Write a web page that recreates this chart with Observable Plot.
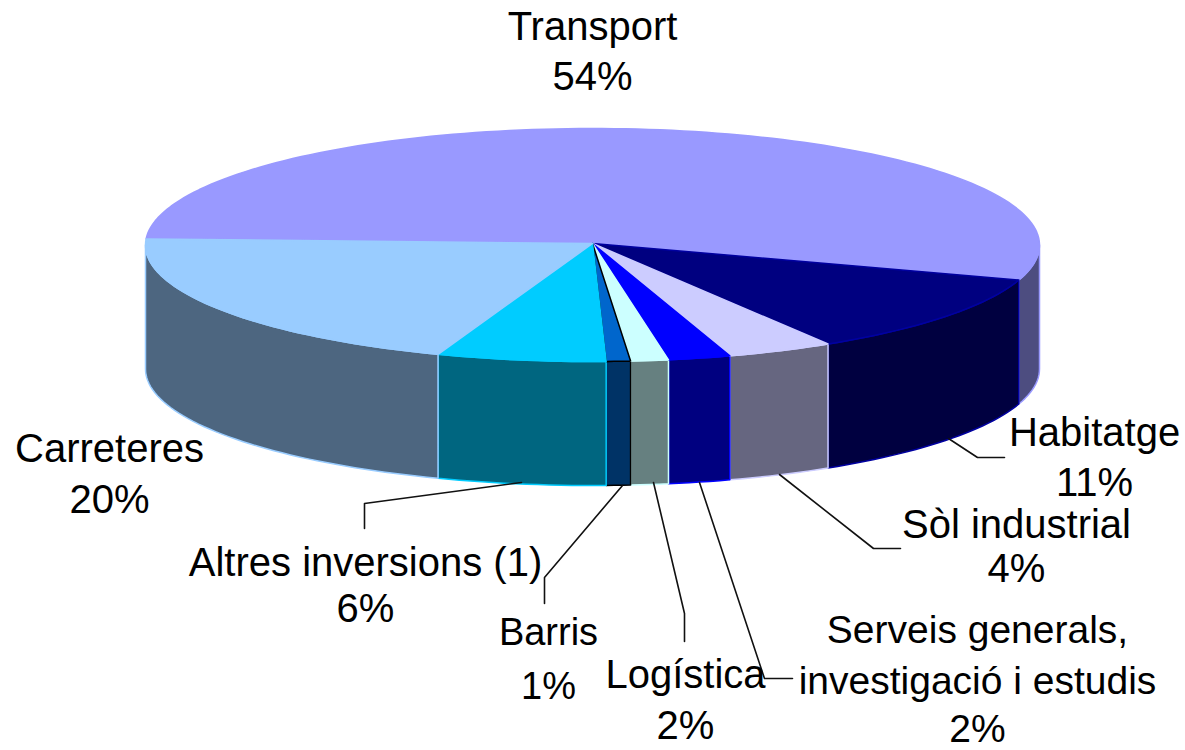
<!DOCTYPE html>
<html>
<head>
<meta charset="utf-8">
<script src="https://cdn.jsdelivr.net/npm/d3@7"></script>
<script src="https://cdn.jsdelivr.net/npm/@observablehq/plot@0.6"></script>
<style>html,body{margin:0;padding:0;background:#fff}svg{display:block}</style>
</head>
<body>
<div id="chart"></div>
<script>
// Data: slices in drawing order round the pie (counter-clockwise from Transport)
const names = ["Transport", "Carreteres", "Altres inversions (1)", "Barris", "Logística",
  "Serveis generals,\ninvestigació i estudis", "Sòl industrial", "Habitatge"];
const shownPercent = [54, 20, 6, 1, 2, 2, 4, 11];
const shares = [54.0, 20.2, 6.1, 0.87, 1.36, 2.25, 3.86, 11.3]; // estimated from the drawn angles

// Styles
const topColors  = ["#9999FF", "#99CCFF", "#00CCFF", "#0066CC", "#CCFFFF", "#0000FF", "#CCCCFF", "#000080"];
const wallColors = ["#4D4D80", "#4D6680", "#006680", "#003366", "#668080", "#000080", "#666680", "#000040"];
const edgeColors = ["#9999FF", "#99CCFF", "#00CCFF", "#000000", "#CCFFFF", "#0000FF", "#CCCCFF", "#0000A0"];

// Layout of the pseudo-3D pie
const pie = {cx: 592, cy: 244.5, rx: 447, ry: 116.5, depth: 124, startDeg: -17.5};
const labelX = [592, 109, 365, 548, 685, 977, 1016, 1094];
const labelY = [[27, 77], [449, 500], [563, 609], [632, 686], [675, 726], [630, 681, 729], [525, 569], [433, 483]];
const labelSize = [40, 40, 40, 38, 40, 39, 40, 40];
const leaders = [
  null, null,
  [[521, 482], [364, 503], [364, 528]],
  [[622, 485], [544, 577], [544, 603]],
  [[653, 482], [684, 613], [684, 641]],
  [[699, 482], [764, 678], [792, 678]],
  [[779, 474], [873, 548], [900, 548]],
  [[948, 438], [977, 457], [1004, 457]]
];

const total = d3.sum(shares);
let start = pie.startDeg;
const slices = names.map((name, i) => {
  const a0 = start, a1 = start + shares[i] / total * 360;
  start = a1;
  return {i, a0, a1};
});
const px = deg => pie.cx + pie.rx * Math.cos(deg * Math.PI / 180);
const py = deg => pie.cy - pie.ry * Math.sin(deg * Math.PI / 180);
const arc = (a0, a1) => {
  const n = Math.max(2, Math.ceil(Math.abs(a1 - a0) / 1.5));
  return d3.range(n + 1).map(k => a0 + (a1 - a0) * k / n);
};

// Transport first, then the rest from Habitatge back to Carreteres, so edges overlap as in the picture
const order = [0, 7, 6, 5, 4, 3, 2, 1].map(i => slices[i]);

const wallRows = [], topRows = [];
for (const s of order) {
  // the wall is visible only on the front half of the rim (angles -180..0, same as 180..360)
  const spans = [[Math.max(s.a0, 180), Math.min(s.a1, 360)], [Math.max(s.a0, -180), Math.min(s.a1, 0)]];
  spans.filter(([a, b]) => b > a).forEach(([a, b], j) => {
    const top = arc(a, b).map(d => [px(d), py(d)]);
    const bottom = top.map(([x, y]) => [x, y + pie.depth]).reverse();
    [...top, ...bottom, top[0]].forEach(([x, y]) =>
      wallRows.push({x, y, key: s.i + "-" + j, fill: wallColors[s.i], edge: edgeColors[s.i]}));
  });
  const rim = arc(s.a0, s.a1).map(d => [px(d), py(d)]);
  [[pie.cx, pie.cy - 1.5], ...rim, [pie.cx, pie.cy - 1.5]].forEach(([x, y]) =>
    topRows.push({x, y, key: s.i, fill: topColors[s.i], edge: edgeColors[s.i]}));
}

const leaderRows = leaders.flatMap((pts, i) => pts ? pts.map(([x, y]) => ({x, y, key: i})) : []);
const textRows = names.flatMap((name, i) =>
  [...name.split("\n"), shownPercent[i] + "%"].map((text, k) =>
    ({text, x: labelX[i], y: labelY[i][k], size: labelSize[i]})));

const polygon = rows => Plot.line(rows, {
  x: "x", y: "y", z: "key", fill: "fill", stroke: "edge", strokeWidth: 1.5, curve: "linear"
});

const chart = Plot.plot({
  width: 1185,
  height: 750,
  margin: 0,
  x: {domain: [0, 1185], range: [0, 1185], axis: null},
  y: {domain: [0, 750], range: [0, 750], axis: null},
  marks: [
    polygon(wallRows),
    polygon(topRows),
    Plot.line(leaderRows, {x: "x", y: "y", z: "key", stroke: "#111", strokeWidth: 1.6, curve: "linear"}),
    Plot.text(textRows, {
      x: "x", y: "y", text: "text", fill: "#000", fontSize: "size",
      fontFamily: "Liberation Sans", textAnchor: "middle"
    })
  ]
});
document.getElementById("chart").append(chart);
</script>
</body>
</html>
